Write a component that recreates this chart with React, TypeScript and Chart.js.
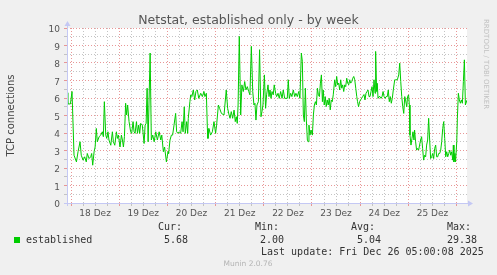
import React, { useEffect, useRef } from 'react';
import { Chart, registerables } from 'chart.js';

Chart.register(...registerables);

const TITLE = 'Netstat, established only - by week';
const Y_TITLE = 'TCP connections';
const SIDE_TEXT = 'RRDTOOL / TOBI OETIKER';
const DAY_LABELS = ['18 Dez', '19 Dez', '20 Dez', '21 Dez', '22 Dez', '23 Dez', '24 Dez', '25 Dez'];
const SERIES_NAME = 'established';
const STAT_HEADERS = ['Cur:', 'Min:', 'Avg:', 'Max:'];
const STAT_VALUES = ['5.68', '2.00', '5.04', '29.38'];
const LAST_UPDATE = 'Last update: Fri Dec 26 05:00:08 2025';
const FOOTER = 'Munin 2.0.76';

// x range in hours relative to 18 Dez 00:00
const X_MIN = -2;
const X_MAX = 197.2;
const Y_MIN = 0;
const Y_MAX = 10;

// hours since 18 Dez 00:00
const HOURS = [
  -2.0, -1.6, -0.3, 0.5, 1.5, 2.7, 3.5, 4.5, 5.1, 6.0, 6.8, 7.6, 8.1, 9.0, 9.8, 10.3, 10.8, 11.5,
  12.0, 12.6, 13.1, 14.0, 14.8, 15.6, 16.1, 16.6, 17.3, 17.8, 18.4, 18.9, 19.8, 20.6, 21.1, 21.8,
  22.6, 23.1, 23.6, 24.4, 25.1, 25.6, 26.1, 26.6, 27.2, 27.7, 28.2, 28.9, 29.7, 30.2, 30.9, 31.4,
  31.9, 32.6, 33.1, 33.7, 34.2, 34.7, 35.5, 36.4, 36.9, 37.4, 37.9, 38.4, 39.4, 40.0, 40.7, 41.4,
  42.2, 43.0, 43.9, 44.7, 45.2, 46.0, 46.6, 47.5, 48.3, 48.6, 49.3, 50.0, 50.6, 51.3, 52.1, 52.6,
  53.3, 53.9, 54.6, 55.3, 55.8, 56.4, 56.9, 57.6, 58.1, 58.4, 59.2, 59.6, 60.2, 60.9, 61.6, 62.2,
  62.9, 63.6, 64.6, 65.4, 66.2, 66.7, 67.4, 67.9, 68.2, 68.7, 69.5, 70.4, 71.2, 72.0, 72.5, 73.4,
  74.0, 74.9, 76.2, 77.3, 78.0, 78.7, 79.2, 79.8, 80.5, 81.2, 81.8, 82.3, 82.8, 83.2, 83.8, 84.5,
  85.1, 85.8, 86.5, 87.1, 87.8, 88.5, 89.1, 89.8, 90.5, 91.1, 91.6, 92.1, 92.6, 93.3, 93.9, 94.6,
  95.1, 95.6, 96.3, 96.9, 97.4, 98.1, 98.6, 99.1, 99.6, 100.1, 100.7, 101.2, 101.9, 102.4, 103.1,
  103.7, 104.4, 105.1, 105.7, 106.4, 107.1, 107.7, 108.2, 108.7, 109.4, 110.0, 110.7, 111.4, 112.0,
  112.7, 113.4, 114.0, 114.7, 115.2, 115.7, 116.2, 116.7, 117.2, 117.7, 118.2, 118.5, 119.0, 119.5,
  120.2, 120.7, 121.2, 121.7, 122.2, 122.7, 123.2, 123.7, 124.2, 124.7, 125.2, 125.6, 126.1, 126.6,
  127.1, 127.6, 128.1, 128.6, 129.1, 129.6, 130.1, 130.6, 131.3, 131.8, 132.3, 132.8, 133.3, 133.8,
  134.3, 134.8, 135.3, 135.8, 136.3, 136.8, 137.3, 137.8, 138.3, 138.8, 139.3, 139.8, 140.3, 140.8,
  141.3, 141.8, 142.3, 142.7, 143.2, 143.7, 144.2, 144.7, 145.2, 145.9, 146.4, 146.9, 147.4, 147.9,
  148.4, 148.9, 149.4, 149.9, 150.4, 150.9, 151.4, 151.7, 152.2, 152.5, 152.9, 153.4, 153.9, 154.4,
  154.9, 155.4, 155.9, 156.4, 156.9, 157.5, 158.0, 158.5, 159.0, 159.5, 160.0, 160.5, 161.2, 161.7,
  162.5, 163.2, 163.7, 164.2, 164.7, 165.2, 165.7, 166.2, 166.6, 167.2, 167.6, 168.1, 168.5, 168.8,
  169.3, 169.8, 170.3, 170.8, 171.1, 171.6, 172.1, 172.6, 173.1, 173.6, 174.1, 174.6, 175.1, 175.6,
  176.1, 176.6, 177.1, 177.6, 178.1, 178.6, 179.1, 179.6, 180.1, 180.6, 181.1, 181.6, 182.1, 182.6,
  183.1, 183.6, 184.1, 184.6, 185.1, 185.6, 186.1, 186.6, 187.1, 187.6, 188.1, 188.6, 189.1, 189.6,
  190.1, 190.4, 190.7, 191.2, 191.5, 192.1, 192.4, 192.9, 193.4, 193.9, 194.4, 194.9, 195.4, 195.9,
  196.4, 197.2,
];

// TCP connections (established)
const ESTABLISHED = [
  6.3, 5.66, 5.66, 6.37, 2.73, 2.35, 2.93, 3.5, 2.73, 2.45, 2.64, 2.35, 2.83, 2.54, 2.64, 2.83, 2.16, 2.93,
  3.2, 4.26, 3.5, 3.79, 3.88, 4.07, 3.79, 5.79, 3.88, 3.69, 4.07, 3.6, 3.3, 4.07, 3.5, 3.3,
  4.07, 3.69, 3.88, 3.2, 3.88, 3.6, 3.2, 3.79, 5.7, 5.03, 5.6, 4.65, 4.07, 3.98, 4.65, 4.07,
  3.98, 4.65, 3.98, 4.45, 3.98, 4.55, 4.45, 3.4, 4.45, 4.55, 6.56, 3.5, 8.57, 3.6, 3.88, 3.5,
  4.07, 3.6, 4.07, 3.6, 3.88, 2.93, 3.2, 2.35, 2.93, 2.83, 3.6, 3.88, 3.88, 4.45, 5.12, 4.07,
  3.98, 4.07, 3.98, 4.65, 4.07, 5.5, 3.98, 4.65, 3.98, 4.84, 5.79, 6.18, 6.08, 6.46, 5.89, 6.37,
  6.46, 5.98, 6.27, 6.08, 6.37, 6.08, 6.27, 4.26, 3.69, 4.26, 3.88, 4.07, 4.65, 3.98, 4.45, 5.6,
  5.41, 5.12, 5.03, 6.46, 5.41, 5.03, 4.84, 5.22, 4.84, 5.31, 4.65, 4.93, 4.55, 5.6, 9.52, 5.03,
  6.75, 6.37, 6.94, 6.46, 6.65, 6.37, 6.18, 8.95, 6.37, 5.6, 5.7, 4.74, 5.6, 5.79, 8.76, 4.93,
  5.22, 5.6, 7.32, 5.41, 6.18, 6.75, 6.08, 6.46, 5.98, 6.37, 6.18, 6.75, 6.27, 6.08, 6.27,
  5.98, 6.37, 5.98, 6.46, 5.98, 5.98, 5.98, 7.04, 5.98, 6.27, 6.08, 6.46, 6.08, 6.27,
  6.08, 6.37, 5.98, 8.57, 8.1, 5.03, 4.65, 6.56, 4.74, 3.6, 3.5, 4.45, 3.88, 4.17,
  3.88, 5.03, 5.6, 5.79, 5.6, 6.56, 6.18, 6.08, 6.85, 7.32, 5.79, 6.46, 5.6, 6.08,
  5.51, 5.89, 5.6, 5.98, 5.32, 5.89, 5.79, 6.18, 7.04, 6.65, 7.23, 6.75, 6.85, 6.46,
  7.04, 6.56, 6.75, 6.37, 6.75, 6.65, 7.13, 6.85, 6.75, 7.04, 6.85, 6.94, 7.13, 7.23,
  7.04, 6.56, 6.08, 5.79, 5.5, 5.79, 5.89, 5.98, 6.08, 6.2, 5.89, 6.27, 6.37, 6.46,
  6.08, 6.08, 6.37, 6.65, 6.08, 7.04, 6.27, 8.66, 6.37, 6.84, 5.98, 6.08, 6.08, 5.98,
  6.08, 6.37, 6.08, 5.98, 6.08, 6.08, 6.46, 5.79, 6.08, 5.7, 5.98, 6.46, 7.04, 7.04,
  7.04, 7.32, 7.99, 6.94, 6.08, 5.5, 5.12, 6.08, 5.89, 5.5, 6.08, 6.18, 5.6, 3.88,
  3.31, 3.69, 4.07, 3.6, 4.17, 3.5, 3.02, 3.12, 3.02, 3.31, 3.6, 3.79, 3.12, 2.45,
  2.73, 2.64, 3.31, 3.6, 4.84, 3.6, 2.54, 2.64, 2.83, 2.54, 3.12, 3.31, 2.64, 2.64,
  2.83, 2.83, 3.02, 3.5, 4.26, 4.65, 3.69, 2.64, 2.93, 2.64, 2.83, 3.02, 2.73, 2.93,
  2.45, 3.31, 2.35, 2.83, 2.35, 3.5, 4.84, 6.27, 5.89, 5.7, 5.89, 5.7, 6.94, 8.18,
  5.6, 5.88,
];

const FONT = 'DejaVu Sans';
const MONO = 'DejaVu Sans Mono';
const LINE_COLOR = '#00cc00';
const MAJOR_GRID = 'rgba(230, 140, 140, 0.9)';
const MINOR_GRID = 'rgba(190, 190, 190, 0.9)';
const AXIS_COLOR = '#c4c8f4';

const muninPlugin = {
  id: 'munin',
  beforeDraw(chart: any) {
    const { ctx, chartArea: a, width, height } = chart;
    ctx.save();
    ctx.fillStyle = '#f0f0f0';
    ctx.fillRect(0, 0, width, height);
    ctx.fillStyle = '#ffffff';
    ctx.fillRect(a.left, a.top, a.right - a.left, a.bottom - a.top);
    ctx.restore();
  },
  afterDraw(chart: any) {
    const { ctx, chartArea: a, width } = chart;
    ctx.save();
    // axes
    ctx.strokeStyle = AXIS_COLOR;
    ctx.fillStyle = AXIS_COLOR;
    ctx.lineWidth = 1;
    ctx.beginPath();
    ctx.moveTo(a.left - 3, a.bottom + 0.5);
    ctx.lineTo(a.right + 2, a.bottom + 0.5);
    ctx.moveTo(a.left + 0.5, a.bottom + 3);
    ctx.lineTo(a.left + 0.5, a.top - 3);
    ctx.stroke();
    ctx.beginPath();
    ctx.moveTo(a.left + 0.5, a.top - 7);
    ctx.lineTo(a.left - 2.5, a.top - 2);
    ctx.lineTo(a.left + 3.5, a.top - 2);
    ctx.closePath();
    ctx.fill();
    ctx.beginPath();
    ctx.moveTo(a.right + 6, a.bottom + 0.5);
    ctx.lineTo(a.right + 1, a.bottom - 2.5);
    ctx.lineTo(a.right + 1, a.bottom + 3.5);
    ctx.closePath();
    ctx.fill();

    // title
    ctx.fillStyle = '#555555';
    ctx.font = `12.5px "${FONT}"`;
    ctx.textAlign = 'center';
    ctx.textBaseline = 'alphabetic';
    ctx.fillText(TITLE, width / 2, 23.5);

    // side text
    ctx.save();
    ctx.translate(484, 19);
    ctx.rotate(Math.PI / 2);
    ctx.fillStyle = '#c0c0c0';
    ctx.font = `7px "${FONT}"`;
    ctx.textAlign = 'left';
    ctx.textBaseline = 'alphabetic';
    ctx.fillText(SIDE_TEXT, 0, 0);
    ctx.restore();

    // legend
    ctx.fillStyle = LINE_COLOR;
    ctx.fillRect(14, 237, 6, 6);
    ctx.fillStyle = '#333333';
    ctx.font = `10px "${MONO}"`;
    ctx.textAlign = 'left';
    ctx.textBaseline = 'middle';
    ctx.fillText(SERIES_NAME, 26, 240);
    const headerX = [158, 255, 351, 447];
    const valueX = [164, 260, 357, 447];
    STAT_HEADERS.forEach((t, i) => ctx.fillText(t, headerX[i], 227.5));
    STAT_VALUES.forEach((t, i) => ctx.fillText(t, valueX[i], 240));
    ctx.fillText(LAST_UPDATE, 261, 252);

    ctx.fillStyle = '#b4b4b4';
    ctx.font = `7.5px "${FONT}"`;
    ctx.textAlign = 'center';
    ctx.fillText(FOOTER, 248, 264.5);
    ctx.restore();
  },
};

export default function App() {
  const canvasRef = useRef<HTMLCanvasElement | null>(null);

  useEffect(() => {
    const canvas = canvasRef.current;
    if (!canvas) return;
    const points = HOURS.map((h, i) => ({ x: h, y: ESTABLISHED[i] }));
    const chart = new Chart(canvas, {
      type: 'line',
      data: {
        datasets: [
          {
            label: SERIES_NAME,
            data: points,
            borderColor: LINE_COLOR,
            backgroundColor: LINE_COLOR,
            borderWidth: 1,
            pointRadius: 0,
            tension: 0,
            fill: false,
          },
        ],
      },
      options: {
        responsive: false,
        animation: false,
        devicePixelRatio: 1,
        layout: { padding: { left: 0, right: 30, top: 28, bottom: 52 } },
        plugins: {
          legend: { display: false },
          title: { display: false },
          tooltip: { enabled: false },
        },
        scales: {
          x: {
            type: 'linear',
            min: X_MIN,
            max: X_MAX,
            afterFit: (s: any) => {
              s.height = 20;
            },
            border: { display: false, dash: [1, 2] },
            grid: {
              color: (c: any) => (((c.tick?.value % 24) + 24) % 24 === 0 ? MAJOR_GRID : MINOR_GRID),
              lineWidth: 1,
              drawTicks: true,
              tickLength: 3,
              tickBorderDash: [],
            },
            ticks: {
              stepSize: 6,
              includeBounds: false,
              autoSkip: false,
              maxRotation: 0,
              minRotation: 0,
              padding: 2,
              color: '#555555',
              font: { family: FONT, size: 9 },
              callback: (v: any) => {
                const n = Number(v);
                if (((n % 24) + 24) % 24 !== 12) return '';
                const idx = Math.floor(n / 24);
                return DAY_LABELS[idx] ?? '';
              },
            },
          },
          y: {
            type: 'linear',
            min: Y_MIN,
            max: Y_MAX,
            afterFit: (s: any) => {
              s.width = 67;
            },
            border: { display: false, dash: [1, 2] },
            grid: {
              color: (c: any) => (Number.isInteger(c.tick?.value) ? MAJOR_GRID : MINOR_GRID),
              lineWidth: 1,
              drawTicks: true,
              tickLength: 3,
              tickBorderDash: [],
            },
            title: {
              display: true,
              text: Y_TITLE,
              color: '#444444',
              font: { family: FONT, size: 10 },
              padding: { top: 5, bottom: 0 },
            },
            ticks: {
              stepSize: 0.5,
              autoSkip: false,
              padding: 4,
              labelOffset: 2,
              color: '#555555',
              font: { family: FONT, size: 9 },
              callback: (v: any) => (Number.isInteger(Number(v)) ? String(v) : ''),
            },
          },
        },
      },
      plugins: [muninPlugin],
    } as any);
    return () => chart.destroy();
  }, []);

  return (
    <div style={{ position: 'absolute', left: 0, top: 0, width: 497, height: 275 }}>
      <canvas ref={canvasRef} width={497} height={275} style={{ width: 497, height: 275, display: 'block' }} />
    </div>
  );
}
